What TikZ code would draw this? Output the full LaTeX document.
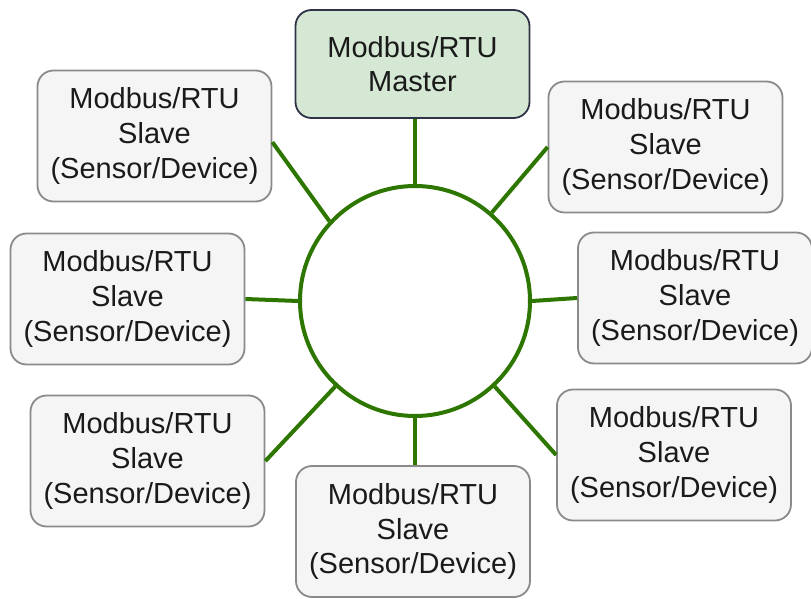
\documentclass[tikz,border=0pt]{standalone}
\usepackage{fontspec}
\setmainfont{Liberation Sans}
\usepackage{xcolor}
\definecolor{busgreen}{HTML}{2D7600}
\definecolor{slavefill}{HTML}{F5F5F5}
\definecolor{slaveline}{HTML}{8A8A8A}
\definecolor{masterfill}{HTML}{D5E8D4}
\definecolor{masterline}{HTML}{2F3347}
\definecolor{textcol}{HTML}{1A1A1A}

\begin{document}
\begin{tikzpicture}[x=0.5pt,y=-0.5pt,
  box/.style={rectangle,rounded corners=8pt,align=center,text=textcol,
    font=\fontsize{14.5pt}{17.3pt}\selectfont,inner sep=0pt,
    minimum width=117pt,line width=0.9pt},
  slave/.style={box,draw=slaveline,fill=slavefill,minimum height=65.5pt},
  master/.style={box,draw=masterline,fill=masterfill,minimum height=54pt},
  bus/.style={draw=busgreen,line width=2pt}]
\useasboundingbox (0,0) rectangle (811,599);
\node[circle,bus,fill=white,minimum size=115pt,inner sep=0pt] (circ) at (415,301) {};
\node[master] (master) at (412.5,64) {Modbus/RTU\\Master};
\node[slave] (tl) at (154.5,136) {Modbus/RTU\\Slave\\(Sensor/Device)};
\node[slave] (tr) at (665.5,147) {Modbus/RTU\\Slave\\(Sensor/Device)};
\node[slave] (ml) at (127.5,299) {Modbus/RTU\\Slave\\(Sensor/Device)};
\node[slave] (mr) at (695,298) {Modbus/RTU\\Slave\\(Sensor/Device)};
\node[slave] (bl) at (147.5,461) {Modbus/RTU\\Slave\\(Sensor/Device)};
\node[slave] (br) at (674,455) {Modbus/RTU\\Slave\\(Sensor/Device)};
\node[slave] (bot) at (413,531.5) {Modbus/RTU\\Slave\\(Sensor/Device)};
\draw[bus] (circ.north) -- (circ.north |- master.south);
\draw[bus] (circ.137) -- (tl.-3);
\draw[bus] (circ.49) -- (tr.west);
\draw[bus] (circ.west) -- (ml.east);
\draw[bus] (circ.east) -- (mr.west);
\draw[bus] (circ.227) -- (bl.east);
\draw[bus] (circ.313) -- (br.west);
\draw[bus] (circ.south) -- (circ.south |- bot.north);
\end{tikzpicture}
\end{document}
